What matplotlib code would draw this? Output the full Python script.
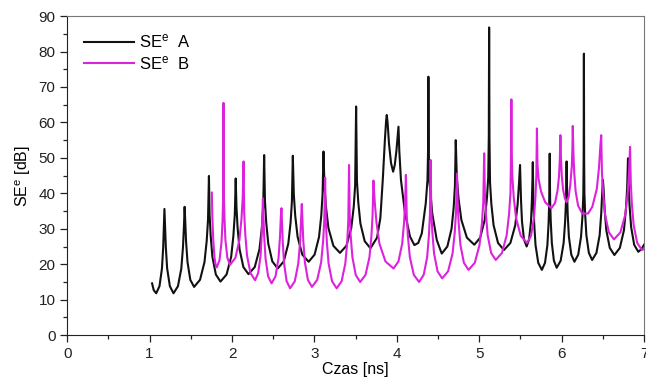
import numpy as np
import matplotlib
matplotlib.use('Agg')
import matplotlib.pyplot as plt
from matplotlib.ticker import MultipleLocator

plt.rcParams['font.family'] = ['Liberation Sans', 'DejaVu Sans']
plt.rcParams['mathtext.default'] = 'regular'

# SE^e A (czarna) - punkty
czas_a = [1.03, 1.05, 1.08,
          1.12, 1.15, 1.165, 1.174, 1.18, 1.187, 1.197, 1.213, 1.246, 1.29,
          1.344, 1.385, 1.405, 1.417, 1.425, 1.432, 1.442, 1.46, 1.494, 1.54,
          1.612, 1.666, 1.693, 1.709, 1.72, 1.728, 1.741, 1.762, 1.804, 1.86,
          1.934, 1.99, 2.017, 2.034, 2.045, 2.054, 2.068, 2.092, 2.138, 2.20,
          2.276, 2.333, 2.362, 2.379, 2.39, 2.40, 2.415, 2.44, 2.489, 2.555,
          2.628, 2.683, 2.711, 2.727, 2.738, 2.75, 2.767, 2.796, 2.853, 2.93,
          3.002, 3.056, 3.083, 3.099, 3.11, 3.122, 3.14, 3.17, 3.23, 3.31,
          3.388, 3.447, 3.477, 3.494, 3.506, 3.516, 3.532, 3.558, 3.61, 3.68,
          3.76, 3.80, 3.83, 3.855, 3.87, 3.878, 3.888, 3.905, 3.93, 3.955,
          3.975, 3.995, 4.01, 4.02, 4.03, 4.05, 4.10, 4.16, 4.213,
          4.26, 4.303, 4.351, 4.372, 4.379, 4.383, 4.388, 4.394, 4.43, 4.485, 4.545,
          4.613, 4.664, 4.69, 4.705, 4.715, 4.728, 4.749, 4.783, 4.85, 4.94,
          5.012, 5.066, 5.093, 5.109, 5.116, 5.12, 5.124, 5.131, 5.147, 5.174, 5.228, 5.30,
          5.378, 5.437, 5.466, 5.483, 5.495, 5.50, 5.507, 5.519, 5.543, 5.575,
          5.605, 5.628, 5.639, 5.646, 5.65, 5.657, 5.667, 5.683, 5.716, 5.76,
          5.798, 5.827, 5.841, 5.849, 5.855, 5.86, 5.868, 5.881, 5.906, 5.94,
          5.988, 6.024, 6.042, 6.053, 6.06, 6.066, 6.074, 6.088, 6.117, 6.155,
          6.201, 6.235, 6.253, 6.263, 6.267, 6.27, 6.273, 6.276, 6.285, 6.30, 6.33, 6.37,
          6.422, 6.461, 6.48, 6.492, 6.50, 6.508, 6.521, 6.542, 6.584, 6.64,
          6.706, 6.756, 6.78, 6.795, 6.805, 6.813, 6.824, 6.843, 6.88, 6.93,
          6.97, 7.0]
se_a = [14.6, 12.7, 11.8,
        13.8, 18.8, 24.8, 30.8, 35.6, 30.8, 24.8, 18.8, 13.8, 11.8,
        13.8, 18.8, 24.8, 30.8, 36.2, 32.6, 26.6, 20.6, 15.6, 13.6,
        15.6, 20.6, 26.6, 32.6, 44.9, 34.1, 28.1, 22.1, 17.1, 15.1,
        17.1, 22.1, 28.1, 34.1, 44.2, 36.2, 30.2, 24.2, 19.2, 17.2,
        19.2, 24.2, 30.2, 36.2, 50.8, 37.8, 31.8, 25.8, 20.8, 18.8,
        20.8, 25.8, 31.8, 37.8, 50.6, 39.7, 33.7, 27.7, 22.7, 20.7,
        22.7, 27.7, 33.7, 39.7, 51.8, 42.2, 36.2, 30.2, 25.2, 23.2,
        25.2, 30.2, 36.2, 42.2, 64.5, 43.5, 37.5, 31.5, 26.5, 24.5,
        27.5, 33.0, 44.0, 55.0, 60.5, 62.1, 60.0, 54.0, 48.5, 46.1,
        48.0, 52.0, 56.0, 58.8, 52.0, 43.8, 34.3, 27.8, 25.4,
        26.0, 28.7, 37.2, 43.8, 52.0, 72.9, 52.0, 43.8, 34.3, 26.8, 23.0,
        25.0, 30.0, 36.0, 42.0, 55.0, 44.5, 38.5, 32.5, 27.5, 25.5,
        27.5, 32.5, 38.5, 44.5, 56.0, 86.8, 56.0, 43.0, 37.0, 31.0, 26.0, 24.0,
        26.0, 31.0, 37.0, 43.0, 48.0, 44.0, 38.0, 32.0, 27.0, 25.0,
        27.0, 32.0, 38.0, 44.0, 48.8, 37.4, 31.4, 25.4, 20.4, 18.4,
        20.4, 25.4, 31.4, 37.4, 51.2, 38.0, 32.0, 26.0, 21.0, 19.0,
        21.0, 26.0, 32.0, 38.0, 49.0, 39.7, 33.7, 27.7, 22.7, 20.7,
        22.7, 27.7, 33.7, 39.7, 50.0, 79.4, 50.0, 40.2, 34.2, 28.2, 23.2, 21.2,
        23.2, 28.2, 34.2, 40.2, 43.8, 41.6, 35.6, 29.6, 24.6, 22.6,
        24.6, 29.6, 35.6, 41.6, 49.9, 42.5, 36.5, 30.5, 25.5, 23.5,
        24.3, 25.5]

# SE^e B (magenta)
czas_b = [1.755, 1.762, 1.772, 1.787, 1.80, 1.815,
          1.848, 1.872, 1.885, 1.892, 1.895, 1.897, 1.899, 1.902, 1.909, 1.92, 1.944, 1.975,
          2.041, 2.09, 2.115, 2.13, 2.14, 2.148, 2.161, 2.182, 2.224, 2.28,
          2.318, 2.347, 2.361, 2.369, 2.375, 2.381, 2.391, 2.407, 2.438, 2.48,
          2.528, 2.564, 2.582, 2.593, 2.60, 2.606, 2.616, 2.632, 2.663, 2.705,
          2.762, 2.804, 2.826, 2.838, 2.847, 2.854, 2.865, 2.884, 2.921, 2.97,
          3.034, 3.082, 3.106, 3.12, 3.13, 3.138, 3.151, 3.172, 3.214, 3.27,
          3.33, 3.375, 3.398, 3.411, 3.42, 3.428, 3.44, 3.461, 3.501, 3.555,
          3.62, 3.668, 3.692, 3.706, 3.716, 3.731, 3.753, 3.789, 3.862, 3.96,
          4.02, 4.065, 4.088, 4.101, 4.11, 4.12, 4.134, 4.158, 4.206, 4.27,
          4.326, 4.368, 4.389, 4.402, 4.41, 4.418, 4.431, 4.452, 4.494, 4.55,
          4.622, 4.676, 4.703, 4.719, 4.73, 4.738, 4.751, 4.772, 4.814, 4.87,
          4.946, 5.003, 5.032, 5.049, 5.06, 5.068, 5.081, 5.102, 5.144, 5.20,
          5.276, 5.333, 5.362, 5.379, 5.386, 5.39, 5.394, 5.401, 5.418, 5.447, 5.504, 5.58,
          5.628, 5.664, 5.682, 5.693, 5.70, 5.707, 5.72, 5.75, 5.80, 5.875,
          5.92, 5.95, 5.968, 5.978, 5.985, 5.992, 6.002, 6.018, 6.04, 6.06,
          6.085, 6.105, 6.123, 6.13, 6.135, 6.142, 6.152, 6.17, 6.20, 6.25,
          6.32, 6.372, 6.426, 6.453, 6.469, 6.48, 6.489, 6.503, 6.527, 6.573, 6.635,
          6.713, 6.772, 6.801, 6.818, 6.83, 6.839, 6.852, 6.874, 6.917, 6.975,
          7.0]
se_b = [40.2, 33.0, 27.0, 22.0, 20.0, 19.1,
        21.1, 26.1, 32.1, 38.1, 50.0, 65.5, 50.0, 38.8, 32.8, 26.8, 21.8, 19.8,
        21.8, 26.8, 32.8, 38.8, 49.0, 34.5, 28.5, 22.5, 17.5, 15.5,
        17.5, 22.5, 28.5, 34.5, 38.6, 33.6, 27.6, 21.6, 16.6, 14.6,
        16.6, 21.6, 27.6, 33.6, 35.8, 32.2, 26.2, 20.2, 15.2, 13.2,
        15.2, 20.2, 26.2, 32.2, 37.0, 32.6, 26.6, 20.6, 15.6, 13.6,
        15.6, 20.6, 26.6, 32.6, 44.4, 32.2, 26.2, 20.2, 15.2, 13.2,
        15.2, 20.2, 26.2, 32.2, 48.0, 34.0, 28.0, 22.0, 17.0, 15.0,
        17.0, 22.0, 28.0, 34.0, 43.6, 37.8, 31.8, 25.8, 20.8, 18.8,
        20.8, 25.8, 31.8, 37.8, 45.2, 34.0, 28.0, 22.0, 17.0, 15.0,
        17.0, 22.0, 28.0, 34.0, 49.4, 35.0, 29.0, 23.0, 18.0, 16.0,
        18.0, 23.0, 29.0, 35.0, 45.6, 37.4, 31.4, 25.4, 20.4, 18.4,
        20.4, 25.4, 31.4, 37.4, 51.3, 40.2, 34.2, 28.2, 23.2, 21.2,
        23.2, 28.2, 34.2, 40.2, 52.0, 66.5, 52.0, 45.0, 39.0, 33.0, 28.0, 26.0,
        28.0, 33.0, 39.0, 45.0, 58.3, 48.0, 44.0, 40.5, 37.5, 35.8,
        37.3, 40.8, 44.8, 49.8, 56.4, 49.8, 44.8, 41.0, 38.5, 37.5,
        39.0, 42.5, 47.5, 52.5, 59.0, 52.0, 46.0, 40.5, 36.5, 34.3,
        34.3, 36.2, 41.2, 47.2, 53.2, 56.4, 46.0, 40.0, 34.0, 29.0, 27.0,
        29.0, 34.0, 40.0, 46.0, 53.1, 43.0, 37.0, 31.0, 26.0, 24.0,
        24.3]

fig = plt.figure(figsize=(6.46, 3.83), dpi=100)
ax = fig.add_axes([0.104, 0.125, 0.893, 0.833])

ax.plot(czas_a, se_a, color='#111111', lw=1.5, label='SE$^{e}$  A')
ax.plot(czas_b, se_b, color='#DD22DD', lw=1.5, label='SE$^{e}$  B')

ax.set_xlim(0, 7)
ax.set_ylim(0, 90)
ax.xaxis.set_major_locator(MultipleLocator(1))
ax.xaxis.set_minor_locator(MultipleLocator(0.5))
ax.yaxis.set_major_locator(MultipleLocator(10))
ax.yaxis.set_minor_locator(MultipleLocator(5))
ax.tick_params(which='major', direction='out', length=5, width=0.9, labelsize=11, colors='#222222')
ax.tick_params(which='minor', direction='out', length=3, width=0.9, colors='#222222')

for s in ['left', 'bottom']:
    ax.spines[s].set_color('#222222')
for s in ['top', 'right']:
    ax.spines[s].set_color('#777777')

ax.set_xlabel('Czas [ns]', fontsize=11.5, labelpad=1)
ax.set_ylabel('SE$^{e}$ [dB]', fontsize=11.5, labelpad=4)

ax.legend(loc='upper left', frameon=False, fontsize=12, handlelength=3.0,
          handletextpad=0.3, borderaxespad=0.6, labelspacing=0.2)

fig.savefig('out.png', dpi=100)
